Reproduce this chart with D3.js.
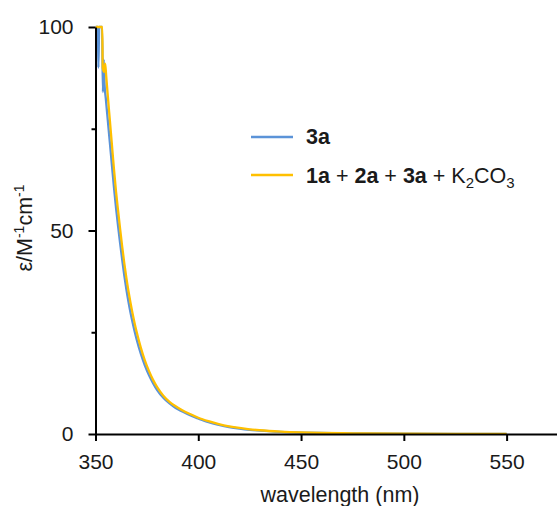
<!DOCTYPE html>
<html>
<head>
<meta charset="utf-8">
<script src="https://cdn.jsdelivr.net/npm/d3@7"></script>
<style>
  html, body { margin: 0; padding: 0; background: #fff; }
  svg { display: block; font-family: "Liberation Sans", Arial, Helvetica, sans-serif; }
</style>
</head>
<body>
<svg id="chart" width="557" height="506"></svg>
<script>
// Absorption spectra: molar absorptivity vs wavelength
const wavelength3a = [350, 351.2, 351.4, 351.8, 353.2, 353.6, 354.0, 354.4, 355, 356, 357, 358, 359, 360, 361, 362, 363, 364, 365, 366, 367, 368, 369, 370, 372, 374, 376, 378, 380, 383, 386, 389, 392, 396, 400, 405, 410, 415, 420, 425, 430, 440, 450, 460, 470, 480, 500, 525, 550];
const epsilon3a    = [100, 100, 90, 100, 100, 84, 92, 86, 82.5, 77, 71.5, 66, 60.5, 55.5, 51, 46.8, 42.8, 39, 35.6, 32.6, 29.9, 27.5, 25.3, 23.3, 19.8, 16.9, 14.5, 12.5, 10.8, 8.9, 7.5, 6.4, 5.6, 4.6, 3.8, 2.9, 2.25, 1.72, 1.33, 1.03, 0.82, 0.53, 0.35, 0.24, 0.17, 0.12, 0.07, 0.04, 0.02];

const wavelengthMix = [350, 353.3, 353.5, 354.2, 354.7, 355.2, 356, 357, 358, 359, 360, 361, 362, 363, 364, 365, 366, 367, 368, 369, 370, 372, 374, 376, 378, 380, 383, 386, 389, 392, 396, 400, 405, 410, 415, 420, 425, 430, 440, 450, 460, 470, 480, 500, 525, 550];
const epsilonMix    = [100, 100, 90, 89, 91, 88, 83, 77, 71, 65, 59.5, 54.8, 50.3, 46.0, 42.0, 38.4, 35.2, 32.3, 29.7, 27.3, 25.1, 21.3, 18.1, 15.5, 13.3, 11.5, 9.4, 7.9, 6.8, 5.9, 4.9, 4.0, 3.15, 2.45, 1.9, 1.48, 1.15, 0.92, 0.6, 0.4, 0.28, 0.2, 0.15, 0.09, 0.05, 0.03];

const xTicks = [350, 400, 450, 500, 550];
const yMajorTicks = [0, 50, 100];
const yMinorTicks = [25, 75];

const svg = d3.select("#chart");
const textColor = "#1a1a1a";
const blue = "#5b93d8";
const gold = "#ffc000";

const x = d3.scaleLinear().domain([350, 575]).range([95.5, 558]);
const y = d3.scaleLinear().domain([0, 100]).range([434, 27]);

// clip the traces to the plotting area
svg.append("defs").append("clipPath").attr("id", "plotClip")
  .append("rect").attr("x", x(350)).attr("y", y(100) - 2)
  .attr("width", x(575) - x(350)).attr("height", y(0) - y(100) + 2);

const line = d3.line()
  .x(d => x(d[0]))
  .y(d => y(d[1]))
  .curve(d3.curveMonotoneX);

const series = [
  { w: wavelength3a, v: epsilon3a, color: blue },
  { w: wavelengthMix, v: epsilonMix, color: gold }
];

const plot = svg.append("g").attr("clip-path", "url(#plotClip)");
series.forEach(s => {
  plot.append("path")
    .datum(s.w.map((w, i) => [w, s.v[i]]))
    .attr("fill", "none")
    .attr("stroke", s.color)
    .attr("stroke-width", 2.3)
    .attr("stroke-linejoin", "round")
    .attr("d", line);
});

// x axis
svg.append("g")
  .attr("transform", `translate(0,${y(0)})`)
  .call(d3.axisBottom(x).tickValues(xTicks).tickSize(7).tickSizeOuter(0).tickPadding(13));

// y axis: major ticks with labels, then unlabelled minor ticks
svg.append("g")
  .attr("transform", `translate(${x(350)},0)`)
  .call(d3.axisLeft(y).tickValues(yMajorTicks).tickSize(7).tickSizeOuter(0).tickPadding(15));

svg.append("g")
  .attr("transform", `translate(${x(350)},0)`)
  .call(d3.axisLeft(y).tickValues(yMinorTicks).tickSize(4).tickSizeOuter(0).tickFormat(""))
  .call(g => g.select(".domain").remove());

svg.selectAll(".domain, .tick line").attr("stroke", "#000").attr("stroke-width", 2);
svg.selectAll(".tick text")
  .attr("font-size", 21)
  .attr("font-family", "'Liberation Sans', Arial, sans-serif")
  .attr("fill", textColor);

// axis titles
svg.append("text")
  .attr("x", 340).attr("y", 502)
  .attr("text-anchor", "middle")
  .attr("font-size", 21.5)
  .attr("fill", textColor)
  .text("wavelength (nm)");

const yTitle = svg.append("text")
  .attr("transform", "translate(32,228) rotate(-90)")
  .attr("text-anchor", "middle")
  .attr("font-size", 21.5)
  .attr("fill", textColor);
yTitle.append("tspan").text("ε/M");
yTitle.append("tspan").attr("font-size", 14).attr("dy", -8).text("-1");
yTitle.append("tspan").attr("dy", 8).text("cm");
yTitle.append("tspan").attr("font-size", 14).attr("dy", -8).text("-1");

// legend
const legend = svg.append("g");
const legendRows = [
  { color: blue, y: 137 },
  { color: gold, y: 175 }
];
legendRows.forEach(r => {
  legend.append("line")
    .attr("x1", 251).attr("x2", 293)
    .attr("y1", r.y).attr("y2", r.y)
    .attr("stroke", r.color).attr("stroke-width", 2.3);
});

const t1 = legend.append("text").attr("x", 306).attr("y", 144)
  .attr("font-size", 21.5).attr("fill", textColor);
t1.append("tspan").attr("font-weight", "bold").text("3a");

const t2 = legend.append("text").attr("x", 306).attr("y", 183)
  .attr("font-size", 21.5).attr("fill", textColor);
t2.append("tspan").attr("font-weight", "bold").text("1a");
t2.append("tspan").text(" + ");
t2.append("tspan").attr("font-weight", "bold").text("2a");
t2.append("tspan").text(" + ");
t2.append("tspan").attr("font-weight", "bold").text("3a");
t2.append("tspan").text(" + K");
t2.append("tspan").attr("font-size", 15).attr("dy", 5).text("2");
t2.append("tspan").attr("dy", -5).text("CO");
t2.append("tspan").attr("font-size", 15).attr("dy", 5).text("3");
</script>
</body>
</html>
